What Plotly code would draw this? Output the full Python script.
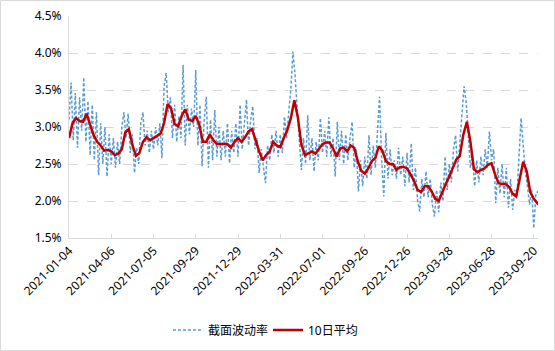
import plotly.graph_objects as go

# ---- data (values in %) ----
n_days = 667  # trading days on the category axis (index 0 .. 666)

tick_labels = ["2021-01-04", "2021-04-06", "2021-07-05", "2021-09-29", "2021-12-29",
               "2022-03-31", "2022-07-01", "2022-09-26", "2022-12-26", "2023-03-28",
               "2023-06-28", "2023-09-20"]
tick_index = [0, 60, 120, 180, 240, 300, 360, 420, 480, 540, 600, 660]

# cross-sectional volatility, read every 3rd trading day
vol_idx = list(range(0, n_days, 3))
vol_values = [
    3.10, 3.60, 2.82, 3.46, 2.72, 3.40, 2.95, 3.67, 2.80, 3.35,
    2.62, 3.30, 2.55, 3.20, 2.35, 3.05, 2.50, 3.00, 2.33, 2.90,
    2.50, 2.85, 2.45, 2.80, 2.50, 3.00, 3.20, 2.85, 3.18, 2.65,
    2.90, 2.38, 2.72, 2.50, 3.05, 3.20, 2.75, 2.95, 2.65, 2.95,
    2.70, 3.00, 2.75, 3.05, 2.58, 3.55, 3.73, 3.20, 3.40, 2.85,
    3.30, 2.80, 3.15, 2.85, 3.84, 2.75, 3.30, 2.90, 3.25, 3.00,
    3.77, 2.75, 3.30, 2.47, 3.10, 3.41, 2.45, 3.10, 2.55, 3.23,
    2.60, 3.00, 2.55, 2.95, 2.60, 3.05, 2.51, 2.95, 2.65, 3.05,
    2.60, 3.30, 2.70, 3.05, 3.37, 2.75, 3.10, 3.28, 2.70, 2.85,
    2.38, 2.70, 2.45, 2.24, 2.75, 2.55, 2.90, 2.65, 2.95, 2.60,
    2.90, 2.65, 3.14, 2.85, 3.20, 3.50, 4.02, 3.70, 3.25, 2.75,
    2.42, 2.85, 2.50, 3.16, 2.55, 2.85, 2.40, 2.80, 2.55, 3.12,
    2.65, 2.95, 2.60, 3.13, 2.60, 2.85, 2.33, 3.07, 2.55, 2.95,
    2.50, 2.90, 2.55, 2.85, 3.07, 2.45, 2.70, 2.13, 2.55, 2.20,
    2.60, 2.30, 2.89, 2.35, 2.75, 2.45, 2.90, 3.41, 2.55, 2.06,
    2.92, 2.30, 2.70, 2.35, 2.55, 2.30, 2.72, 2.35, 2.60, 2.20,
    2.65, 2.25, 2.78, 2.15, 2.45, 2.00, 1.86, 2.30, 2.05, 2.40,
    2.05, 2.30, 1.95, 1.79, 2.15, 1.85, 2.25, 2.00, 2.60, 2.15,
    2.50, 2.25, 2.70, 2.89, 2.40, 2.75, 3.20, 3.55, 3.34, 2.85,
    2.45, 2.60, 2.20, 2.55, 2.25, 2.60, 2.35, 2.70, 2.45, 2.94,
    2.55, 2.70, 1.97, 2.45, 2.10, 2.50, 2.05, 2.45, 1.91, 2.30,
    1.88, 2.15, 2.05, 2.60, 3.12, 2.75, 2.40, 2.20, 1.95, 2.15,
    1.63, 2.10, 2.13,
]

# 10-day average, read every 5th trading day (plus the last day)
ma_idx = list(range(0, 666, 5)) + [666]
ma_values = [
    2.85, 3.05, 3.12, 3.08, 3.07, 3.18, 3.03, 2.89, 2.80, 2.75,
    2.68, 2.69, 2.67, 2.62, 2.64, 2.70, 2.93, 2.97, 2.76, 2.61,
    2.65, 2.80, 2.86, 2.82, 2.85, 2.88, 2.91, 3.05, 3.31, 3.25,
    3.04, 3.01, 3.15, 3.24, 3.10, 3.08, 3.15, 3.03, 2.80, 2.80,
    2.90, 2.82, 2.77, 2.77, 2.77, 2.77, 2.72, 2.80, 2.85, 2.80,
    2.86, 2.94, 2.97, 2.81, 2.67, 2.55, 2.62, 2.67, 2.80, 2.75,
    2.73, 2.85, 2.96, 3.12, 3.36, 3.13, 2.76, 2.62, 2.64, 2.67,
    2.64, 2.70, 2.77, 2.79, 2.79, 2.71, 2.60, 2.71, 2.72, 2.67,
    2.75, 2.72, 2.54, 2.41, 2.37, 2.44, 2.54, 2.58, 2.74, 2.68,
    2.54, 2.50, 2.50, 2.42, 2.46, 2.46, 2.44, 2.36, 2.27, 2.15,
    2.12, 2.20, 2.20, 2.13, 2.03, 2.00, 2.12, 2.23, 2.33, 2.44,
    2.56, 2.61, 2.90, 3.07, 2.80, 2.43, 2.39, 2.42, 2.44, 2.49,
    2.51, 2.36, 2.24, 2.23, 2.23, 2.19, 2.10, 2.06, 2.30, 2.53,
    2.40, 2.12, 2.03, 1.97, 1.99,
]

FONT = "Noto Sans, Noto Sans CJK SC, sans-serif"

fig = go.Figure()
fig.add_trace(go.Scatter(
    x=vol_idx, y=vol_values, mode="lines", name="截面波动率",
    line=dict(color="#5B9BD5", width=1.5, dash="3px,2px"),
))
fig.add_trace(go.Scatter(
    x=ma_idx, y=ma_values, mode="lines", name="10日平均",
    line=dict(color="#C00000", width=2.5),
))

ml, mr, mt, mb = 69, 17, 16, 113
W, H = 555, 351
pw, ph = W - ml - mr, H - mt - mb

fig.update_layout(
    width=W, height=H,
    margin=dict(l=ml, r=mr, t=mt, b=mb, autoexpand=False),
    paper_bgcolor="white", plot_bgcolor="white",
    font=dict(family=FONT, size=12, color="#000000"),
    showlegend=True,
    legend=dict(orientation="h", x=(168 - ml) / pw, xanchor="left", y=(H - mb - 330) / ph,
                yanchor="middle", font=dict(size=12), itemwidth=30,
                entrywidth=55, entrywidthmode="pixels",
                tracegroupgap=0, bgcolor="rgba(0,0,0,0)"),
    xaxis=dict(
        range=[0, n_days - 1], tickmode="array", tickvals=tick_index, ticktext=tick_labels,
        tickangle=-45, showgrid=False, zeroline=False,
        showline=True, linecolor="#d9d9d9", linewidth=1,
        ticks="inside", ticklen=4, tickcolor="#d9d9d9",
        tickfont=dict(size=12),
    ),
    yaxis=dict(
        range=[1.5, 4.5], dtick=0.5, tick0=1.5, tickformat=".1f", ticksuffix="%",
        showgrid=True, gridcolor="#d9d9d9", griddash="dash", gridwidth=1,
        zeroline=False, showline=True, linecolor="#d9d9d9", linewidth=1,
        ticks="", ticklabelstandoff=4, tickfont=dict(size=12),
    ),
    shapes=[dict(
        type="rect", xref="paper", yref="paper",
        x0=(0.5 - ml) / pw, x1=(W - 0.5 - ml) / pw,
        y0=(H - mb - (H - 0.5)) / ph, y1=(H - mb - 0.5) / ph,
        line=dict(color="#d9d9d9", width=1), fillcolor="rgba(0,0,0,0)", layer="below",
    )],
)

fig.write_html("out.html")
